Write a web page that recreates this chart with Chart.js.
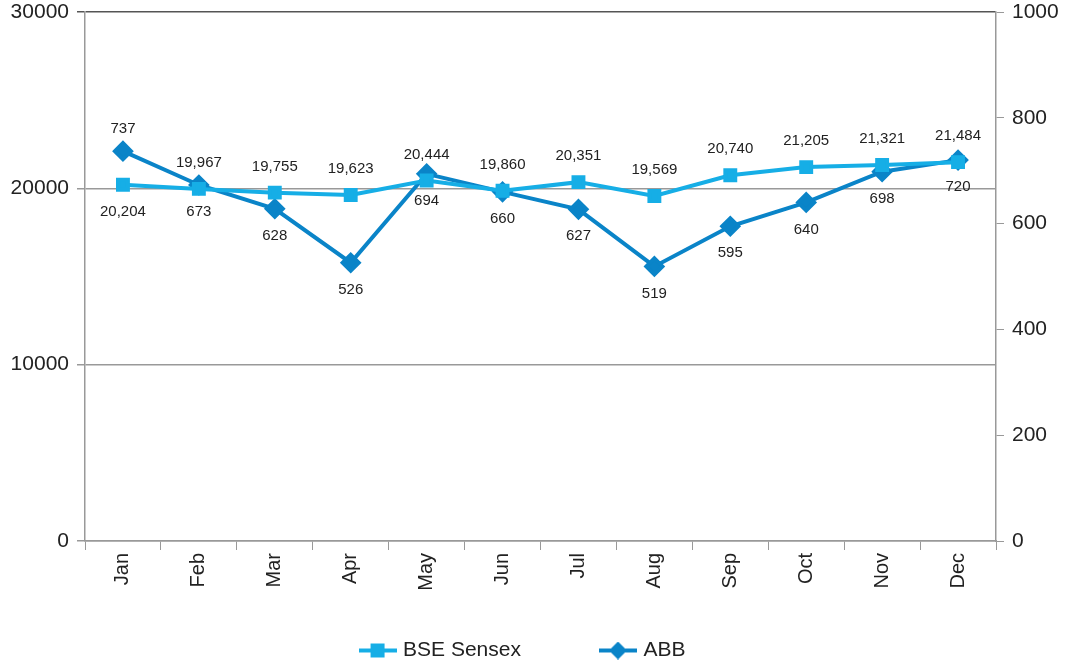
<!DOCTYPE html>
<html>
<head>
<meta charset="utf-8">
<script src="https://cdn.jsdelivr.net/npm/chart.js@4"></script>
<style>
  body { margin: 0; background: #fff; }
  canvas { display: block; }
</style>
</head>
<body>
<canvas id="chart" width="1068" height="663"></canvas>
<script>
// datos
const months = ['Jan', 'Feb', 'Mar', 'Apr', 'May', 'Jun', 'Jul', 'Aug', 'Sep', 'Oct', 'Nov', 'Dec'];
const sensex = [20204, 19967, 19755, 19623, 20444, 19860, 20351, 19569, 20740, 21205, 21321, 21484];
const abb = [737, 673, 628, 526, 694, 660, 627, 519, 595, 640, 698, 720];
// etiqueta arriba (-1) o abajo (1)
const sensexLabelSide = [1, -1, -1, -1, -1, -1, -1, -1, -1, -1, -1, -1];
const abbLabelSide = [-1, 1, 1, 1, 1, 1, 1, 1, 1, 1, 1, 1];

const SENSEX_COLOR = '#16AEE6';
const ABB_COLOR = '#0A84C8';
const FONT = 'Liberation Sans, Arial, sans-serif';
const PLOT_BOTTOM = 541;
const LEGEND_H = 63;

// icono de leyenda: línea con marcador
function legendIcon(color, shape) {
    const c = document.createElement('canvas');
    c.width = 38; c.height = 18;
    const g = c.getContext('2d');
    g.strokeStyle = color;
    g.lineWidth = 4;
    g.beginPath(); g.moveTo(0, 9); g.lineTo(38, 9); g.stroke();
    g.fillStyle = color;
    if (shape === 'rect') {
        g.fillRect(12, 2, 14, 14);
    } else {
        g.beginPath();
        g.moveTo(19, 0); g.lineTo(28, 9); g.lineTo(19, 18); g.lineTo(10, 9);
        g.closePath(); g.fill();
    }
    return c;
}

const valueLabels = {
    id: 'valueLabels',
    afterDatasetsDraw(chart) {
        const ctx = chart.ctx;
        ctx.save();
        ctx.font = '15px ' + FONT;
        ctx.fillStyle = '#222';
        ctx.textAlign = 'center';
        ctx.textBaseline = 'middle';
        chart.data.datasets.forEach((ds, i) => {
            const meta = chart.getDatasetMeta(i);
            const sides = i === 0 ? sensexLabelSide : abbLabelSide;
            const up = i === 0 ? -26 : -22;
            meta.data.forEach((pt, j) => {
                const off = sides[j] < 0 ? up : 27;
                ctx.fillText(ds.data[j].toLocaleString('en-US'), pt.x, pt.y + off);
            });
        });
        ctx.restore();
    }
};

// la leyenda del original está algo a la izquierda del centro
const legendShift = {
    id: 'legendShift',
    afterLayout(chart) {
        if (chart.legend) {
            chart.legend.left -= 12;
            chart.legend.right -= 12;
        }
    }
};

const plain = v => String(v);

const ctx = document.getElementById('chart').getContext('2d');
new Chart(ctx, {
    type: 'line',
    data: {
        labels: months,
        datasets: [{
            label: 'BSE Sensex',
            data: sensex,
            yAxisID: 'y',
            borderColor: SENSEX_COLOR,
            backgroundColor: SENSEX_COLOR,
            borderWidth: 4,
            pointStyle: 'rect',
            pointRadius: 7,
            pointHoverRadius: 7,
            tension: 0
        }, {
            label: 'ABB',
            data: abb,
            yAxisID: 'y1',
            borderColor: ABB_COLOR,
            backgroundColor: ABB_COLOR,
            borderWidth: 4,
            pointStyle: 'rectRot',
            pointRadius: 8,
            pointHoverRadius: 8,
            tension: 0
        }]
    },
    options: {
        responsive: false,
        animation: false,
        devicePixelRatio: 1,
        layout: { padding: { top: 0, left: 10, right: 6, bottom: 0 } },
        plugins: {
            tooltip: { enabled: false },
            legend: {
                position: 'bottom',
                maxHeight: LEGEND_H,
                labels: {
                    usePointStyle: true,
                    pointStyleWidth: 30,
                    padding: 40,
                    color: '#222',
                    font: { size: 21, family: FONT },
                    generateLabels(chart) {
                        return chart.data.datasets.map((ds, i) => ({
                            // espacio extra entre las dos entradas
                            text: i === 0 ? ds.label + '\u2002\u2002\u2002\u2002' : ds.label,
                            pointStyle: legendIcon(ds.borderColor, i === 0 ? 'rect' : 'diamond'),
                            fillStyle: ds.borderColor,
                            strokeStyle: ds.borderColor,
                            lineWidth: 0,
                            fontColor: '#222',
                            datasetIndex: i
                        }));
                    }
                }
            }
        },
        scales: {
            x: {
                offset: true,
                grid: { offset: true, drawOnChartArea: false, tickLength: 9, color: '#999' },
                border: { color: '#999', width: 1.5 },
                ticks: { maxRotation: 90, minRotation: 90, color: '#222', font: { size: 20, family: FONT }, padding: 3 },
                afterFit(scale) {
                    scale.height = scale.chart.height - LEGEND_H - PLOT_BOTTOM;
                }
            },
            y: {
                position: 'left',
                min: 0, max: 30000,
                ticks: { stepSize: 10000, color: '#222', font: { size: 21, family: FONT }, padding: 8, callback: plain },
                grid: { color: c => c.tick && c.tick.value === 30000 ? '#555' : '#999', lineWidth: 1.5, tickLength: 8 },
                border: { color: '#999', width: 1.5 },
                afterFit(scale) { scale.width = 75; scale.paddingTop = 12; }
            },
            y1: {
                position: 'right',
                min: 0, max: 1000,
                ticks: { stepSize: 200, color: '#222', font: { size: 21, family: FONT }, padding: 8, callback: plain },
                grid: { drawOnChartArea: false, tickLength: 8, color: '#999' },
                border: { color: '#999', width: 1.5 },
                afterFit(scale) { scale.width = 66; scale.paddingTop = 12; }
            }
        }
    },
    plugins: [valueLabels, legendShift]
});
</script>
</body>
</html>
